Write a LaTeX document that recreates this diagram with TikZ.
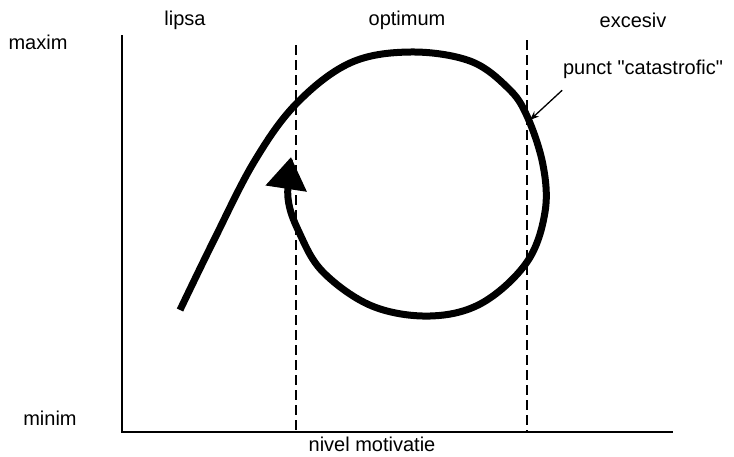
\documentclass[tikz,border=0pt]{standalone}
\usepackage{fontspec}
\newfontfamily\labelfont{Liberation Sans}
\usetikzlibrary{arrows.meta}
\begin{document}
\begin{tikzpicture}[x=1pt,y=-1pt,line width=1.3pt,font=\labelfont\fontsize{20}{23}\selectfont,
  zone/.style={dash pattern=on 10pt off 5pt,line width=1.1pt}]
  \useasboundingbox (0,0) rectangle (734,456);
  \coordinate (top) at (122,35);
  \coordinate (orig) at (122,432);
  \coordinate (xend) at (673,432);
  \draw (top) -- (orig) -- (xend);
  \draw[zone] (296,45) -- (296,432);
  \draw[zone] (527,40) -- (527,432);
  \node (maxim) at (38,42) {maxim};
  \node (minim) at (50,418) {minim};
  \node (lipsa) at (185,20) {lipsa};
  \node (optimum) at (407,20) {optimum};
  \node (excesiv) at (633,20) {excesiv};
  \node (nivel) at (372,444) {nivel motivatie};
  \node (punct) at (643,69) {punct "catastrofic"};
  \draw[line width=7pt,-{Triangle[length=32pt,width=40pt]}]
    plot[smooth,tension=0.6] coordinates {(180,310) (214,240) (254,162) (296,104)
      (350,63) (410,52) (470,61) (508,88) (527,116) (543,165) (545,212) (527,262)
      (482,303) (430,316) (372,306) (323,272) (299,232) (288,198) (291,157)};
  \coordinate (cat) at (530,120);
  \draw[-{Stealth[length=9pt,width=7pt]}] ([xshift=3pt,yshift=-8pt]punct.south west) -- (cat);
\end{tikzpicture}
\end{document}
